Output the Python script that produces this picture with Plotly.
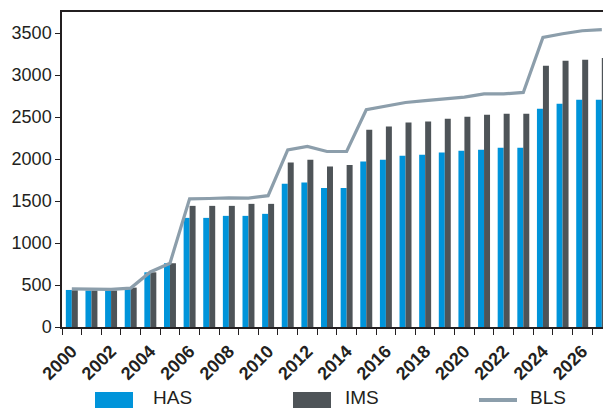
import plotly.graph_objects as go

# Annual series, 2000-2027
years = list(range(2000, 2028))
has_values = [441, 435, 435, 461, 651, 759, 1299, 1299, 1323, 1323, 1347, 1704, 1720, 1656,
              1656, 1970, 1990, 2038, 2050, 2077, 2097, 2109, 2133, 2133, 2598, 2657, 2705, 2705]
ims_values = [438, 435, 435, 469, 651, 759, 1442, 1442, 1442, 1466, 1466, 1958, 1990, 1910,
              1930, 2347, 2387, 2435, 2447, 2479, 2502, 2526, 2538, 2538, 3110, 3170, 3182, 3202]
bls_values = [455, 447, 447, 463, 655, 759, 1525, 1530, 1538, 1535, 1563, 2109, 2149, 2089,
              2089, 2586, 2634, 2673, 2695, 2712, 2737, 2776, 2776, 2792, 3447, 3491, 3527, 3539]
series_names = ["HAS", "IMS", "BLS"]
x_tick_labels = [str(y) for y in range(2000, 2027, 2)]
y_tick_values = list(range(0, 4000, 500))

BLUE = "#0094DA"
DARK = "#4E5458"
LINE = "#8C9EAB"
INK = "#231F20"
FONT = "Liberation Sans, Arial, sans-serif"

W, H = 603, 409
ML, MR, MT, MB = 62, 0, 12, 82
PW, PH = W - ML - MR, H - MT - MB

fig = go.Figure()
fig.add_trace(go.Bar(x=years, y=has_values, name=series_names[0], marker_color=BLUE,
                     marker_line_width=0, showlegend=False))
fig.add_trace(go.Bar(x=years, y=ims_values, name=series_names[1], marker_color=DARK,
                     marker_line_width=0, showlegend=False))
fig.add_trace(go.Scatter(x=years, y=bls_values, name=series_names[2], mode="lines",
                         line=dict(color=LINE, width=3.2), showlegend=False))


def px_x(x):
    return (x - ML) / PW


def px_y(y):
    return (MT + PH - y) / PH


# Legend drawn below the axis
shapes = []
annotations = []
legend_y = 400
legend_items = [
    (series_names[0], BLUE, "bar", 95, 133, 152),
    (series_names[1], DARK, "bar", 293, 331, 344),
    (series_names[2], LINE, "line", 479, 517, 529),
]
for name, color, kind, x0, x1, tx in legend_items:
    if kind == "bar":
        shapes.append(dict(type="rect", xref="paper", yref="paper",
                           x0=px_x(x0), x1=px_x(x1), y0=px_y(legend_y - 8), y1=px_y(legend_y + 8),
                           fillcolor=color, line_width=0))
    else:
        shapes.append(dict(type="line", xref="paper", yref="paper",
                           x0=px_x(x0), x1=px_x(x1), y0=px_y(legend_y), y1=px_y(legend_y),
                           line=dict(color=color, width=4)))
    annotations.append(dict(text=name, xref="paper", yref="paper", x=px_x(tx), y=px_y(H),
                            xanchor="left", yanchor="bottom", showarrow=False, borderpad=0,
                            font=dict(family=FONT, size=19, color=INK)))

fig.update_layout(
    width=W, height=H, autosize=False,
    margin=dict(l=ML, r=MR, t=MT, b=MB, pad=0),
    paper_bgcolor="white", plot_bgcolor="white",
    barmode="group", bargap=0.39, bargroupgap=0,
    font=dict(family=FONT, color=INK),
    shapes=shapes, annotations=annotations,
)
fig.update_xaxes(
    range=[1999.5, 2027.06],
    tickmode="array", tickvals=list(range(2000, 2027, 2)), ticktext=x_tick_labels,
    tickangle=-45, ticks="", ticklen=0, ticklabelstandoff=5,
    tickfont=dict(family=FONT, size=18, color=INK, weight="bold"),
    minor=dict(ticks="outside", tick0=1999.5, dtick=1, ticklen=6, tickwidth=1.3, tickcolor=INK),
    showline=True, linecolor=INK, linewidth=1.5, mirror=True,
    showgrid=False, zeroline=False,
)
fig.update_yaxes(
    range=[0, 3750], tickmode="array", tickvals=y_tick_values,
    ticks="outside", ticklen=5, tickwidth=1.3, tickcolor=INK,
    tickfont=dict(family=FONT, size=18, color=INK),
    showline=True, linecolor=INK, linewidth=1.5,
    showgrid=False, zeroline=False,
)

fig.write_html("out.html")
